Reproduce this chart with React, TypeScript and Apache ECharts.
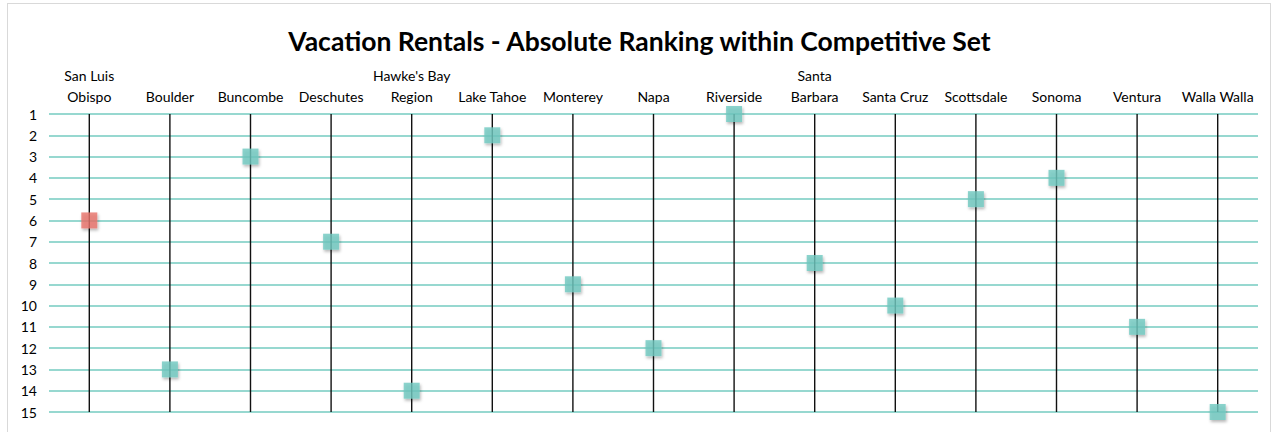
import React, { useEffect, useRef } from "react";
import * as echarts from "echarts";

const categories = [
  "San Luis\nObispo",
  "Boulder",
  "Buncombe",
  "Deschutes",
  "Hawke's Bay\nRegion",
  "Lake Tahoe",
  "Monterey",
  "Napa",
  "Riverside",
  "Santa\nBarbara",
  "Santa Cruz",
  "Scottsdale",
  "Sonoma",
  "Ventura",
  "Walla Walla",
];
const ranks = [6, 13, 3, 7, 14, 2, 9, 12, 1, 8, 10, 5, 4, 11, 15];
const highlightIndex = 0;
const rankMin = 1;
const rankMax = 15;
const title = "Vacation Rentals - Absolute Ranking within Competitive Set";

const FONT = "Lato, 'Open Sans', sans-serif";

export default function App() {
  const ref = useRef<HTMLDivElement>(null);
  useEffect(() => {
    if (!ref.current) return;
    const chart = echarts.init(ref.current, null, { renderer: "svg" });
    chart.setOption({
      animation: false,
      backgroundColor: "transparent",
      title: {
        text: title,
        left: "center",
        top: 22,
        textStyle: { fontFamily: FONT, fontSize: 26.5, fontWeight: "bold", color: "#000" },
      },
      grid: { left: 49, right: 21, top: 114, bottom: 20 },
      xAxis: {
        type: "category",
        position: "top",
        data: categories,
        boundaryGap: true,
        axisLine: { show: false },
        axisTick: { show: false },
        splitLine: { show: false },
        axisLabel: {
          interval: 0,
          margin: 7,
          fontFamily: FONT,
          fontSize: 14,
          color: "#000",
          lineHeight: 21,
        },
      },
      yAxis: {
        type: "value",
        inverse: true,
        min: rankMin,
        max: rankMax,
        interval: 1,
        axisLine: { show: false },
        axisTick: { show: false },
        axisLabel: { fontFamily: FONT, fontSize: 14, color: "#000", margin: 12 },
        splitLine: { show: true, lineStyle: { color: "#74CBC1", width: 1.5 } },
      },
      series: [
        {
          type: "custom",
          data: categories.map((_, i) => [i]),
          renderItem: (params: any, api: any) => {
            const i = api.value(0);
            const p1 = api.coord([i, rankMin]);
            const p2 = api.coord([i, rankMax]);
            return {
              type: "line",
              shape: { x1: p1[0], y1: p1[1], x2: p2[0], y2: p2[1] },
              style: { stroke: "#111", lineWidth: 1.4 },
            };
          },
          z: 2,
          silent: true,
        },
        {
          type: "scatter",
          symbol: "rect",
          symbolSize: 16,
          z: 3,
          data: ranks.map((r, i) => ({
            value: [i, r],
            itemStyle: {
              color: i === highlightIndex ? "#E8736C" : "#6FC9C0",
              shadowBlur: 3,
              shadowOffsetX: 1,
              shadowOffsetY: 2,
              shadowColor: "rgba(0,0,0,0.35)",
            },
          })),
        },
      ],
    });
    return () => chart.dispose();
  }, []);
  return (
    <div style={{ position: "absolute", left: 0, top: 0, width: 1279, height: 432, overflow: "hidden", background: "#fff" }}>
      <div
        style={{
          position: "absolute",
          left: 7,
          top: 3,
          width: 1264,
          height: 450,
          boxSizing: "border-box",
          border: "1px solid #d9d9d9",
        }}
      />
      <div ref={ref} style={{ position: "absolute", left: 0, top: 0, width: 1279, height: 432 }} />
    </div>
  );
}
